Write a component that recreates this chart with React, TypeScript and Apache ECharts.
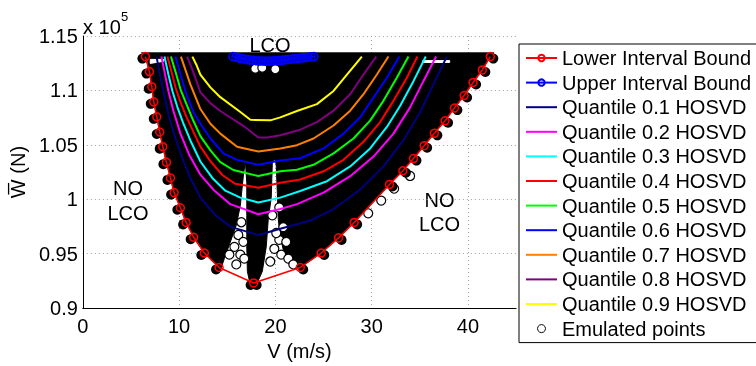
import React, { useEffect, useRef } from 'react';
import * as echarts from 'echarts';

const FONT = '"Liberation Sans", Arial, Helvetica, sans-serif';

// Axis ticks
const xTicks = [0, 10, 20, 30, 40];
const yTicks = [0.9, 0.95, 1, 1.05, 1.1, 1.15];

// Lower interval bound (V [m/s], W [x1e5 N])
const lowerV = [6.50, 6.92, 7.16, 7.37, 7.68, 7.99, 8.30, 8.68, 9.10, 9.48, 10.13, 10.73, 11.51, 12.62, 14.15, 17.74, 22.58, 24.76, 26.56, 28.18, 31.85, 33.24, 34.34, 35.45, 36.51, 37.62, 38.59, 39.60, 40.53, 41.49, 42.32];
const lowerW = [1.1311, 1.1173, 1.1034, 1.0895, 1.0757, 1.0618, 1.0483, 1.0341, 1.0196, 1.0061, 0.9922, 0.9787, 0.9651, 0.9506, 0.9373, 0.9231, 0.9373, 0.9506, 0.9645, 0.9787, 1.0136, 1.0262, 1.0374, 1.0492, 1.0606, 1.0721, 1.0838, 1.0953, 1.1073, 1.1188, 1.1311];

// Upper interval bound
const upperV = [15.6, 15.9, 16.2, 16.5, 16.8, 17.1, 17.4, 17.7, 18.0, 18.3, 18.6, 18.9, 19.2, 19.5, 19.8, 20.1, 20.4, 20.7, 21.0, 21.3, 21.6, 21.9, 22.2, 22.5, 22.8, 23.1, 23.4, 23.7, 24.0];
const upperW = [1.1311, 1.1305, 1.1299, 1.1293, 1.1288, 1.1283, 1.1279, 1.1276, 1.1273, 1.1271, 1.1270, 1.1269, 1.1269, 1.1270, 1.1271, 1.1273, 1.1275, 1.1278, 1.1281, 1.1284, 1.1287, 1.1290, 1.1293, 1.1296, 1.1299, 1.1302, 1.1305, 1.1308, 1.1311];

// Quantile curves (HOSVD)
const q01V = [7.65, 7.96, 8.37, 8.89, 9.62, 10.45, 11.17, 12.21, 13.77, 15.42, 18.23, 20.51, 23.62, 26.04, 28.81, 31.22, 33.30, 35.03, 36.41, 37.80];
const q01W = [1.1311, 1.1173, 1.0992, 1.0784, 1.0558, 1.0350, 1.0196, 1.0015, 0.9853, 0.9744, 0.9672, 0.9729, 0.9805, 0.9910, 1.0090, 1.0302, 1.0543, 1.0799, 1.1055, 1.1311];
const q02V = [8.16, 8.48, 8.89, 9.41, 10.14, 11.07, 12.21, 13.56, 15.32, 18.23, 20.51, 22.24, 25.00, 27.77, 30.19, 32.26, 33.99, 35.37, 36.69];
const q02W = [1.1311, 1.1173, 1.0992, 1.0811, 1.0603, 1.0404, 1.0226, 1.0088, 0.9955, 0.9862, 0.9910, 0.9955, 1.0061, 1.0212, 1.0392, 1.0603, 1.0844, 1.1085, 1.1311];
const q03V = [8.48, 8.89, 9.31, 9.82, 10.45, 11.17, 12.21, 13.45, 14.80, 16.36, 18.23, 20.51, 22.58, 25.35, 27.77, 29.84, 31.58, 32.96, 34.34, 35.62];
const q03W = [1.1311, 1.1146, 1.0992, 1.0847, 1.0694, 1.0540, 1.0347, 1.0196, 1.0079, 1.0015, 0.9970, 1.0015, 1.0076, 1.0166, 1.0302, 1.0467, 1.0664, 1.0859, 1.1085, 1.1311];
const q04V = [8.79, 9.20, 9.62, 10.14, 10.76, 11.48, 12.21, 13.25, 14.49, 15.84, 18.23, 20.51, 22.58, 25.00, 27.07, 29.15, 30.88, 32.26, 33.65, 34.75];
const q04W = [1.1311, 1.1173, 1.1028, 1.0892, 1.0757, 1.0621, 1.0483, 1.0350, 1.0223, 1.0142, 1.0106, 1.0151, 1.0181, 1.0257, 1.0362, 1.0528, 1.0709, 1.0904, 1.1116, 1.1311];
const q05V = [9.15, 9.62, 10.14, 10.76, 11.48, 12.21, 13.25, 14.28, 15.63, 18.23, 20.51, 22.24, 23.96, 26.04, 28.11, 29.84, 31.22, 32.61, 33.82];
const q05W = [1.1311, 1.1173, 1.1010, 1.0874, 1.0721, 1.0580, 1.0449, 1.0341, 1.0269, 1.0214, 1.0257, 1.0271, 1.0317, 1.0422, 1.0558, 1.0723, 1.0904, 1.1116, 1.1311];
const q06V = [9.62, 10.14, 10.76, 11.48, 12.21, 13.25, 14.60, 16.02, 18.23, 20.51, 22.58, 25.00, 27.07, 28.81, 30.19, 31.58, 32.88];
const q06W = [1.1311, 1.1146, 1.0965, 1.0802, 1.0694, 1.0558, 1.0422, 1.0362, 1.0317, 1.0356, 1.0377, 1.0467, 1.0603, 1.0754, 1.0935, 1.1116, 1.1311];
const q07V = [10.19, 10.65, 11.17, 12.21, 13.25, 14.28, 16.02, 18.23, 20.51, 22.24, 23.96, 26.04, 27.77, 29.15, 30.54, 31.74];
const q07W = [1.1311, 1.1191, 1.1055, 1.0829, 1.0694, 1.0603, 1.0483, 1.0438, 1.0467, 1.0497, 1.0558, 1.0678, 1.0814, 1.0965, 1.1146, 1.1311];
const q08V = [10.83, 11.38, 12.21, 13.25, 14.28, 16.67, 18.23, 19.16, 20.51, 22.58, 24.31, 26.04, 27.77, 29.15, 30.47];
const q08W = [1.1311, 1.1191, 1.0983, 1.0883, 1.0811, 1.0675, 1.0567, 1.0567, 1.0588, 1.0639, 1.0709, 1.0814, 1.0965, 1.1146, 1.1311];
const q09V = [11.38, 11.79, 12.21, 13.25, 14.28, 16.36, 17.40, 19.47, 20.51, 22.24, 24.31, 26.04, 27.43, 28.98];
const q09W = [1.1311, 1.1236, 1.1146, 1.1028, 1.0938, 1.0802, 1.0730, 1.0725, 1.0752, 1.0811, 1.0874, 1.0995, 1.1146, 1.1311];

// Envelope of the dense cloud of emulated points
const cloudV = [6.09, 42.70, 42.32, 41.49, 40.53, 39.60, 38.59, 37.62, 36.51, 35.45, 34.34, 33.24, 31.85, 28.18, 26.56, 24.76, 22.58, 21.75, 21.03, 20.51, 20.30, 20.20, 20.09, 19.99, 19.68, 19.57, 19.26, 19.05, 18.64, 18.01, 17.40, 17.09, 17.03, 17.03, 17.03, 16.88, 16.67, 16.36, 15.94, 15.32, 14.70, 14.28, 14.15, 12.62, 11.51, 10.73, 10.13, 9.48, 9.10, 8.68, 8.30, 7.99, 7.68, 7.37, 7.16, 6.92, 6.50];
const cloudW = [1.1345, 1.1345, 1.1311, 1.1188, 1.1073, 1.0953, 1.0838, 1.0721, 1.0606, 1.0492, 1.0374, 1.0262, 1.0136, 0.9787, 0.9645, 0.9506, 0.9373, 0.9364, 0.9455, 0.9654, 0.9816, 1.0061, 1.0305, 1.0377, 1.0332, 1.0015, 0.9816, 0.9563, 0.9337, 0.9211, 0.9211, 0.9337, 0.9563, 0.9853, 1.0151, 1.0350, 1.0214, 0.9943, 0.9762, 0.9608, 0.9455, 0.9347, 0.9373, 0.9506, 0.9651, 0.9787, 0.9922, 1.0061, 1.0196, 1.0341, 1.0483, 1.0618, 1.0757, 1.0895, 1.1034, 1.1173, 1.1311];

// Thin empty streaks just below the top row of the cloud
const gapLeftV = [7.00, 8.40, 8.40, 7.00];
const gapLeftW = [1.1285, 1.1285, 1.1268, 1.1248];
const gapRightV = [35.30, 38.10, 38.10, 35.30];
const gapRightW = [1.1274, 1.1274, 1.1257, 1.1257];

// Extreme emulated points (they define the lower bound): left and right flanks
const edgeLeftV = lowerV.slice(0, 16);
const edgeLeftW = lowerW.slice(0, 16);
const edgeRightV = lowerV.slice(15);
const edgeRightW = lowerW.slice(15);

// Isolated emulated points (gaps, outside the flank, just under the upper bound)
const looseV = [16.46, 16.15, 15.74, 16.67, 16.36, 15.94, 16.77, 15.22, 20.82, 20.40, 21.13, 19.89, 20.61, 21.34, 19.47, 20.09, 21.86, 19.68, 20.40, 32.33, 30.99, 29.64, 33.99, 17.91, 18.64, 19.99];
const looseW = [0.9789, 0.9672, 0.9563, 0.9609, 0.9491, 0.9401, 0.9455, 0.9491, 0.9744, 0.9627, 0.9609, 0.9545, 0.9491, 0.9455, 0.9428, 0.9690, 0.9401, 0.9853, 0.9925, 1.0097, 0.9988, 0.9871, 1.0214, 1.1200, 1.1209, 1.1195];

const zip = (a: number[], b: number[]) => a.map((v, i) => [v, b[i]]);

const quantiles = [
  { name: 'Quantile 0.1 HOSVD', v: q01V, w: q01W, color: '#000080' },
  { name: 'Quantile 0.2 HOSVD', v: q02V, w: q02W, color: '#ff00ff' },
  { name: 'Quantile 0.3 HOSVD', v: q03V, w: q03W, color: '#00ffff' },
  { name: 'Quantile 0.4 HOSVD', v: q04V, w: q04W, color: '#ff0000' },
  { name: 'Quantile 0.5 HOSVD', v: q05V, w: q05W, color: '#00ff00' },
  { name: 'Quantile 0.6 HOSVD', v: q06V, w: q06W, color: '#0000ff' },
  { name: 'Quantile 0.7 HOSVD', v: q07V, w: q07W, color: '#ff8000' },
  { name: 'Quantile 0.8 HOSVD', v: q08V, w: q08W, color: '#800080' },
  { name: 'Quantile 0.9 HOSVD', v: q09V, w: q09W, color: '#ffff00' },
];

const polygonSeries = (pts: number[][], fill: string, z: number) => ({
  type: 'custom',
  silent: true,
  z,
  data: pts,
  encode: { x: 0, y: 1 },
  renderItem: (params: any, api: any) => {
    if (params.dataIndex !== 0) return null;
    return {
      type: 'polygon',
      shape: { points: pts.map((p) => api.coord(p)) },
      style: { fill, stroke: fill, lineWidth: 1 },
    };
  },
});

export default function App() {
  const ref = useRef<HTMLDivElement>(null);
  useEffect(() => {
    if (!ref.current) return;
    const chart = echarts.init(ref.current, undefined, { renderer: 'svg' });

    const series: any[] = [
      polygonSeries(zip(cloudV, cloudW), '#000', 1),
      polygonSeries(zip(gapLeftV, gapLeftW), '#fff', 1),
      polygonSeries(zip(gapRightV, gapRightW), '#fff', 1),
      {
        type: 'scatter',
        name: 'Emulated points',
        z: 2,
        symbol: 'circle',
        symbolSize: 9,
        itemStyle: { color: '#fff', borderColor: '#000', borderWidth: 1.2, opacity: 1 },
        data: zip(looseV, looseW),
      },
      {
        type: 'scatter',
        name: 'Emulated points',
        z: 2,
        symbol: 'circle',
        symbolSize: 10,
        symbolOffset: [-3, 2],
        itemStyle: { color: '#000', opacity: 1 },
        data: zip(edgeLeftV, edgeLeftW),
      },
      {
        type: 'scatter',
        name: 'Emulated points',
        z: 2,
        symbol: 'circle',
        symbolSize: 10,
        symbolOffset: [3, 2],
        itemStyle: { color: '#000', opacity: 1 },
        data: zip(edgeRightV, edgeRightW),
      },
      ...quantiles.map((q) => ({
        type: 'line',
        name: q.name,
        z: 3,
        symbol: 'none',
        lineStyle: { color: q.color, width: 2 },
        itemStyle: { color: q.color },
        data: zip(q.v, q.w),
      })),
      {
        type: 'line',
        name: 'Upper Interval Bound',
        z: 4,
        symbol: 'circle',
        symbolSize: 8,
        lineStyle: { color: '#0000ff', width: 1.5 },
        itemStyle: { color: 'rgba(0,0,0,0)', borderColor: '#0000ff', borderWidth: 1.5 },
        data: zip(upperV, upperW),
      },
      {
        type: 'line',
        name: 'Lower Interval Bound',
        z: 4,
        symbol: 'circle',
        symbolSize: 8,
        lineStyle: { color: '#ff0000', width: 1.5 },
        itemStyle: { color: 'rgba(0,0,0,0)', borderColor: '#ff0000', borderWidth: 1.5 },
        data: zip(lowerV, lowerW),
      },
    ];

    const legendData: any[] = [
      { name: 'Lower Interval Bound' },
      { name: 'Upper Interval Bound' },
      ...quantiles.map((q) => ({ name: q.name, itemStyle: { opacity: 0 } })),
      { name: 'Emulated points', itemStyle: { color: '#fff', borderColor: '#000', borderWidth: 1 } },
    ];

    chart.setOption({
      animation: false,
      textStyle: { fontFamily: FONT },
      grid: { left: 82.3, right: 239.9, top: 36, bottom: 53.7, containLabel: false },
      xAxis: {
        type: 'value',
        min: xTicks[0],
        max: 45,
        interval: 10,
        name: 'V (m/s)',
        nameLocation: 'middle',
        nameGap: 23,
        nameTextStyle: { fontSize: 20, color: '#000', fontFamily: FONT },
        axisLine: { show: true, onZero: false, lineStyle: { color: '#000', width: 1 } },
        axisTick: { show: false },
        axisLabel: {
          fontSize: 20, color: '#000', margin: 8, fontFamily: FONT, showMaxLabel: false,
          formatter: (v: number) => (xTicks.includes(v) ? String(v) : ''),
        },
        splitLine: { show: true, showMaxLine: false, lineStyle: { color: '#a0a0a0', type: [1, 3], width: 1 } },
      },
      yAxis: {
        type: 'value',
        min: yTicks[0],
        max: yTicks[yTicks.length - 1],
        interval: 0.05,
        name: 'W\u0305 (N)',
        nameLocation: 'middle',
        nameGap: 41,
        nameTextStyle: { fontSize: 20, color: '#000', fontFamily: FONT },
        axisLine: { show: true, onZero: false, lineStyle: { color: '#000', width: 1 } },
        axisTick: { show: false },
        axisLabel: { fontSize: 20, color: '#000', margin: 5, fontFamily: FONT },
        splitLine: { show: true, lineStyle: { color: '#a0a0a0', type: [1, 3], width: 1 } },
      },
      legend: {
        orient: 'vertical',
        left: 519,
        top: 44,
        itemWidth: 31,
        itemHeight: 8,
        itemGap: 4.6,
        padding: [4, 6, 4, 6],
        backgroundColor: '#fff',
        borderColor: '#000',
        borderWidth: 1,
        borderRadius: 0,
        selectedMode: false,
        textStyle: { fontSize: 20, color: '#000', fontFamily: FONT },
        data: legendData,
        z: 10,
      },
      graphic: [
        { type: 'text', x: 83, y: 27, style: { text: 'x 10', fontSize: 20, fontFamily: FONT, fill: '#000', verticalAlign: 'middle', align: 'left' } },
        { type: 'text', x: 121, y: 16, style: { text: '5', fontSize: 13, fontFamily: FONT, fill: '#000', verticalAlign: 'middle', align: 'left' } },
        { type: 'text', x: 270, y: 45, style: { text: 'LCO', fontSize: 20, fontFamily: FONT, fill: '#000', verticalAlign: 'middle', align: 'center' } },
        { type: 'text', x: 128, y: 200.5, style: { text: 'NO\nLCO', fontSize: 20, lineHeight: 25, fontFamily: FONT, fill: '#000', verticalAlign: 'middle', align: 'center' } },
        { type: 'text', x: 439.5, y: 212, style: { text: 'NO\nLCO', fontSize: 20, lineHeight: 24, fontFamily: FONT, fill: '#000', verticalAlign: 'middle', align: 'center' } },
      ],
      series,
    });
    return () => chart.dispose();
  }, []);
  return <div ref={ref} style={{ position: 'fixed', left: 0, top: 0, width: 756, height: 366 }} />;
}
